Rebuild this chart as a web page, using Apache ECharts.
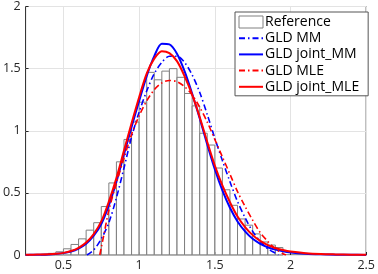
<!DOCTYPE html>
<html>
<head>
<meta charset="utf-8">
<script src="https://cdn.jsdelivr.net/npm/echarts@6/dist/echarts.min.js"></script>
<style>html,body{margin:0;padding:0;background:#fff;}#c{width:378px;height:274px;}</style>
</head>
<body>
<div id="c"></div>
<script>
// Histogram (bin left edges, bin width 0.05) and density heights
var binLeft = [0.35,0.40,0.45,0.50,0.55,0.60,0.65,0.70,0.75,0.80,0.85,0.90,0.95,1.00,1.05,1.10,1.15,1.20,1.25,1.30,1.35,1.40,1.45,1.50,1.55,1.60,1.65,1.70,1.75,1.80,1.85,1.90];
var binWidth = 0.05;
var histHeights = [0.005,0.013,0.026,0.05,0.085,0.13,0.20,0.26,0.39,0.58,0.75,0.93,1.07,1.23,1.47,1.41,1.48,1.50,1.43,1.30,1.20,0.98,0.885,0.70,0.525,0.40,0.29,0.24,0.17,0.105,0.08,0.06];

// Solid curves share this x grid
var xSolid = [0.25,0.3,0.35,0.4,0.45,0.5,0.55,0.6,0.65,0.7,0.75,0.8,0.85,0.9,0.95,1.0,1.05,1.1,1.15,1.2,1.25,1.3,1.35,1.4,1.45,1.5,1.55,1.6,1.65,1.7,1.75,1.8,1.85,1.9,1.95,2.0,2.1,2.2,2.3,2.4,2.5];
var jointMM = [0.001,0.002,0.003,0.005,0.009,0.015,0.028,0.052,0.09,0.155,0.25,0.40,0.59,0.81,1.03,1.24,1.44,1.60,1.70,1.695,1.62,1.48,1.30,1.10,0.89,0.69,0.52,0.38,0.27,0.19,0.13,0.09,0.062,0.043,0.03,0.021,0.011,0.006,0.003,0.002,0.001];
var jointMLE = [0.002,0.003,0.004,0.006,0.01,0.017,0.032,0.058,0.10,0.168,0.27,0.43,0.62,0.84,1.06,1.27,1.46,1.58,1.64,1.625,1.56,1.44,1.29,1.11,0.91,0.72,0.56,0.425,0.31,0.225,0.16,0.113,0.08,0.056,0.04,0.028,0.015,0.008,0.005,0.003,0.002];

var xMM = [0.655,0.7,0.75,0.8,0.85,0.9,0.95,1.0,1.05,1.1,1.15,1.2,1.25,1.3,1.35,1.4,1.45,1.5,1.55,1.6,1.65,1.7,1.75,1.8,1.85,1.9,1.92];
var gldMM = [0,0.04,0.13,0.26,0.46,0.70,0.95,1.15,1.32,1.46,1.55,1.60,1.60,1.55,1.45,1.31,1.13,0.94,0.76,0.59,0.43,0.30,0.19,0.11,0.05,0.015,0];

var xMLE = [0.74,0.75,0.77,0.8,0.85,0.9,0.95,1.0,1.05,1.1,1.15,1.2,1.25,1.3,1.35,1.4,1.45,1.5,1.55,1.6,1.65,1.7,1.75,1.8,1.85,1.9,1.95,1.97];
var gldMLE = [0,0.06,0.18,0.36,0.58,0.78,0.97,1.12,1.24,1.33,1.385,1.405,1.395,1.355,1.29,1.19,1.07,0.93,0.79,0.65,0.51,0.39,0.28,0.18,0.11,0.05,0.01,0];

var xTicks = [0.5,1,1.5,2,2.5];
var yTicks = [0,0.5,1,1.5,2];
var names = ['Reference','GLD MM','GLD joint_MM','GLD MLE','GLD joint_MLE'];

function zip(xs, ys){ var o=[]; for(var i=0;i<xs.length;i++) o.push([xs[i], ys[i]]); return o; }
var histData = binLeft.map(function(x,i){ return [x, x+binWidth, histHeights[i]]; });

var font = 'Open Sans';
var chart = echarts.init(document.getElementById('c'), null, {renderer:'canvas'});
var dashDot = [6,3,1.5,3];
var hideSym = {color:'transparent', opacity:0, borderWidth:0};
chart.setOption({
  animation:false,
  grid:{left:25, right:9, top:4, bottom:19, show:true, borderColor:'#262626', borderWidth:1, backgroundColor:'transparent'},
  xAxis:{type:'value', min:0.25, max:2.5,
    axisLine:{show:false},
    axisTick:{show:true, inside:true, length:3, lineStyle:{color:'#262626'}, customValues:xTicks},
    axisLabel:{customValues:xTicks, color:'#262626', fontFamily:font, fontSize:12.5, margin:4,
      formatter:function(v){return String(v);}},
    splitLine:{show:true, lineStyle:{color:'#e3e3e3', width:1}}
  },
  yAxis:{type:'value', min:0, max:2, interval:0.5,
    axisLine:{show:false},
    axisTick:{show:true, inside:true, length:3, lineStyle:{color:'#262626'}},
    axisLabel:{color:'#262626', fontFamily:font, fontSize:12.5, margin:5,
      formatter:function(v){return String(v);}},
    splitLine:{show:true, lineStyle:{color:'#e3e3e3', width:1}}
  },
  legend:{
    orient:'vertical', left:235, top:12,
    padding:[3,9,2,3], itemGap:2.2, itemWidth:24, itemHeight:12,
    backgroundColor:'#fff', borderColor:'#555', borderWidth:1, borderRadius:0,
    textStyle:{fontFamily:font, fontSize:14, color:'#000', padding:[0,0,0,-3], lineHeight:14},
    data:[
      {name:'Reference', icon:'rect', itemStyle:{color:'#fff', borderColor:'#808080', borderWidth:1}},
      {name:'GLD MM', itemStyle:hideSym},
      {name:'GLD joint_MM', itemStyle:hideSym},
      {name:'GLD MLE', itemStyle:hideSym},
      {name:'GLD joint_MLE', itemStyle:hideSym}
    ]
  },
  series:[
    {name:'Reference', type:'custom', data:histData, z:2,
      itemStyle:{color:'#fff', borderColor:'#808080'},
      renderItem:function(params, api){
        var p0 = api.coord([api.value(0), api.value(2)]);
        var p1 = api.coord([api.value(1), 0]);
        return {type:'rect', shape:{x:p0[0], y:p0[1], width:p1[0]-p0[0], height:p1[1]-p0[1]},
          style:{fill:'rgba(255,255,255,0.6)', stroke:'#808080', lineWidth:1}};
      },
      encode:{x:[0,1], y:2}
    },
    {name:'GLD MM', type:'line', data:zip(xMM,gldMM), symbol:'none', smooth:0.3, z:3,
      lineStyle:{color:'#0000ff', width:1.6, type:dashDot}, itemStyle:{color:'#0000ff'}},
    {name:'GLD joint_MM', type:'line', data:zip(xSolid,jointMM), symbol:'none', smooth:0.3, z:3,
      lineStyle:{color:'#0000ff', width:2}, itemStyle:{color:'#0000ff'}},
    {name:'GLD MLE', type:'line', data:zip(xMLE,gldMLE), symbol:'none', smooth:0.3, z:4,
      lineStyle:{color:'#ff0000', width:1.6, type:dashDot}, itemStyle:{color:'#ff0000'}},
    {name:'GLD joint_MLE', type:'line', data:zip(xSolid,jointMLE), symbol:'none', smooth:0.3, z:4,
      lineStyle:{color:'#ff0000', width:2}, itemStyle:{color:'#ff0000'}}
  ]
});
</script>
</body>
</html>
